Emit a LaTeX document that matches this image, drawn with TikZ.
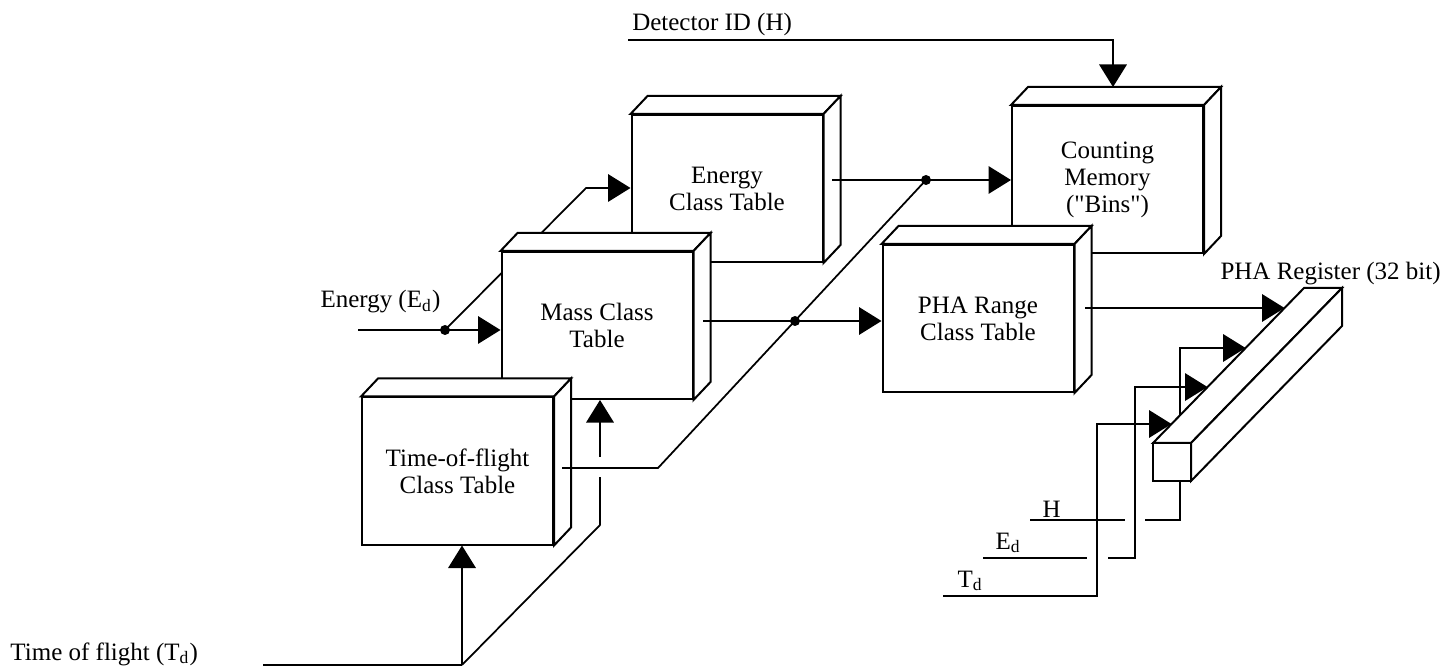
\documentclass[tikz,border=0pt]{standalone}
\usepackage{fontspec}
\setmainfont{Liberation Serif}[Ligatures=TeXOff]
\usetikzlibrary{arrows.meta,calc}
\tikzset{
  clsbox/.style={draw, fill=white, line width=0.8pt, minimum width=76.4pt, minimum height=58.8pt, inner sep=0pt, align=center},
  sig/.style={line width=0.7pt, -{Triangle[length=9pt,width=11pt]}},
  wire/.style={line width=0.7pt},
  lbl/.style={inner sep=0pt, anchor=base west}
}
\newcommand{\tbldepth}[1]{%
  \draw[fill=white, line width=0.8pt] (#1.north west) -- ++(17,-18) -- ([shift={(17,-18)}]#1.north east) -- (#1.north east) -- cycle;
  \draw[fill=white, line width=0.8pt] (#1.north east) -- ++(17,-18) -- ([shift={(17,-18)}]#1.south east) -- (#1.south east) -- cycle;}
\begin{document}
\begin{tikzpicture}[x=0.4pt, y=-0.4pt, font={\fontsize{10}{10.8}\selectfont}]
\fill[white] (0,0) rectangle (1445,671);
\useasboundingbox (0,0) rectangle (1445,671);
\coordinate (ein) at (358,330);
\coordinate (edot) at (445,330);
\coordinate (ebend) at (586,188);
\coordinate (tin) at (263,665);
\coordinate (tcorner) at (462,665);
\coordinate (tup) at (600,525);
\node[lbl] (elab) at (320,308) {Energy (E\textsubscript{d})};
\node[lbl] (tlab) at (10,660) {Time of flight (T\textsubscript{d})};
% tables, back row first
\node[clsbox] (ect) at (727,188.5) {Energy\\Class Table};
\tbldepth{ect}
\draw[sig] (edot) -- (ebend) -- (ebend -| ect.west);
\node[clsbox] (cm) at (1107.5,179.5) {Counting\\Memory\\("Bins")};
\tbldepth{cm}
\node[clsbox] (mass) at (597,325.5) {Mass Class\\Table};
\tbldepth{mass}
\node[clsbox] (pha) at (978,318.5) {PHA Range\\Class Table};
\tbldepth{pha}
\node[clsbox] (tof) at (457.5,471) {Time-of-flight\\Class Table};
\tbldepth{tof}
% inputs
\draw[sig] (ein) -- (ein -| mass.west);
\fill (edot) circle (2pt);
\draw[wire] (tin) -- (tcorner);
\draw[sig] (tcorner) -- (tcorner |- tof.south);
\draw[wire] (tcorner) -- (tup) -- ++(0,-48);
\draw[sig] (tup) ++(0,-68) -- (tup |- mass.south);
% outputs
\coordinate (ectout) at (832,180);
\coordinate (sdot) at (926,180);
\coordinate (mout) at (703,321);
\coordinate (mdot) at (795,321);
\coordinate (tofout) at (562,468);
\coordinate (tbend) at (658,468);
\draw[sig] (ectout) -- (ectout -| cm.west);
\draw[sig] (mout) -- (mout -| pha.west);
\draw[wire] (tofout) -- (tbend) -- (sdot);
\fill (sdot) circle (2pt);
\fill (mdot) circle (2pt);
\coordinate (detl) at (628,40);
\coordinate (cmtop) at ([shift={(5.5,-18)}]cm.north);
\node[anchor=south west, inner sep=1.5pt] (detlab) at (detl) {Detector ID (H)};
\draw[sig] (detl) -| (cmtop);
% register
\coordinate (regf) at (1153,443);
\coordinate (regb) at (1304,288);
\coordinate (p1) at ($(regf)!0.871!(regb)$);
\coordinate (p2) at ($(regf)!0.613!(regb)$);
\coordinate (p3) at ($(regf)!0.361!(regb)$);
\coordinate (p4) at ($(regf)!0.1226!(regb)$);
\coordinate (phaout) at (1085,308);
\coordinate (hin) at (1030,520);
\coordinate (hup) at (1180,520);
\coordinate (edin) at (983,558);
\coordinate (edup) at (1135,558);
\coordinate (tdin) at (943,596);
\coordinate (tdup) at (1097,596);
\draw[wire] (hin) -- ++(95,0);
\draw[sig] (hup) ++(-35,0) -- (hup) |- (p2);
\draw[fill=white, line width=0.8pt] (regf) rectangle ++(38,38);
\draw[fill=white, line width=0.8pt] (regf) -- (regb) -- ++(38,0) -- ([shift={(38,0)}]regf) -- cycle;
\draw[fill=white, line width=0.8pt] ([shift={(38,0)}]regf) -- ([shift={(38,0)}]regb) -- ([shift={(38,38)}]regb) -- ([shift={(38,38)}]regf) -- cycle;
\draw[sig] (phaout) -- (p1);
\draw[wire] (edin) -- ++(104,0);
\draw[sig] (edup) ++(-27,0) -- (edup) |- (p3);
\draw[sig] (tdin) -- (tdup) |- (p4);
\node[lbl] (hlab) at (1042,517) {H};
\node[lbl] (edlab) at (995,549) {E\textsubscript{d}};
\node[lbl] (tdlab) at (957,587) {T\textsubscript{d}};
\node[lbl] (reglab) at (1220,280) {PHA Register (32 bit)};
\end{tikzpicture}
\end{document}
